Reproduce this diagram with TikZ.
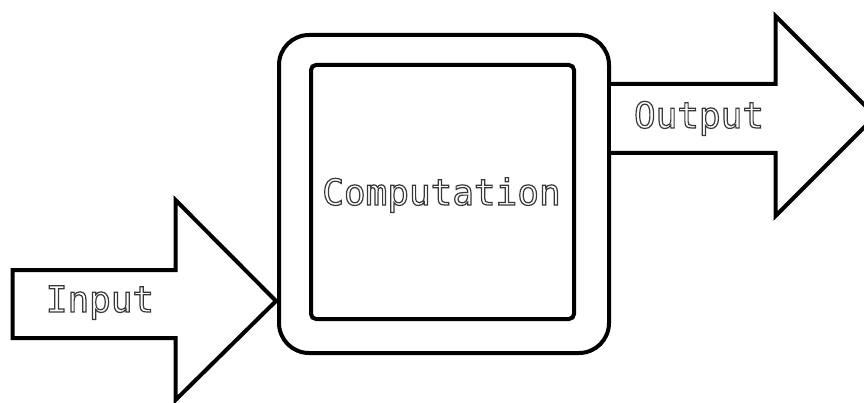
\documentclass[tikz,border=0pt]{standalone}
\usepackage{fontspec}
\newfontfamily\monofont{DejaVu Sans Mono}
% White letters with a thin grey outline (PDF text render mode 2)
\newcommand\hollowtext[1]{{\special{pdf:code q 2 Tr 1.2 w}\color{white}\special{pdf:code 0.22 G}#1\special{pdf:code Q}}}
\tikzset{
  frame/.style={draw=black, line width=4pt, fill=white, line join=miter},
  lbl/.style={font=\monofont\fontsize{36}{36}\selectfont, inner sep=0pt, anchor=base}
}
\begin{document}
\begin{tikzpicture}[x=1pt,y=-1pt]
\useasboundingbox (0,0) rectangle (864,403);
% input arrow
\coordinate (intip) at (276,301);
\draw[frame] (12.5,270) -- (175.5,270) -- (175.5,200) -- (intip)
  -- (175.5,400) -- (175.5,338) -- (12.5,338) -- cycle;
% processing block
\node[frame, rounded corners=30pt, minimum width=330pt, minimum height=318pt, inner sep=0pt] (outer) at (444,194) {};
\node[frame, rounded corners=5pt, minimum width=263pt, minimum height=254pt, inner sep=0pt] (inner) at (442.5,192) {};
% output arrow
\coordinate (outtip) at (875.5,116);
\draw[frame] (outer.east |- 0,84) -- (775.5,84) -- (775.5,16) -- (outtip)
  -- (775.5,216) -- (775.5,153) -- (outer.east |- 0,153);
% labels
\node[lbl] (intext) at (100,312) {\hollowtext{Input}};
\node[lbl] (comptext) at (441.5,205) {\hollowtext{Computation}};
\node[lbl] (outtext) at (699,128) {\hollowtext{Output}};
\end{tikzpicture}
\end{document}
